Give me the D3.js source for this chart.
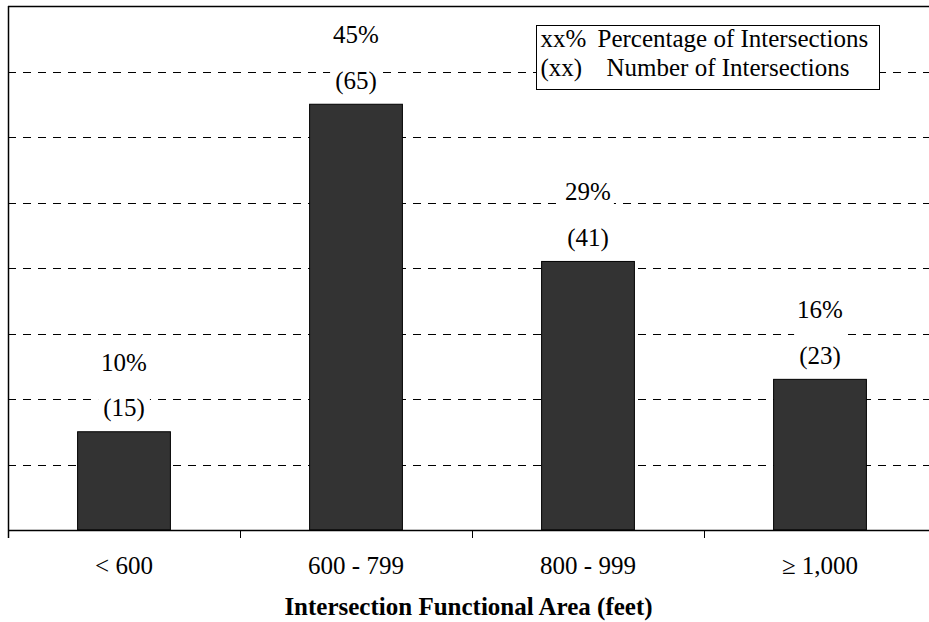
<!DOCTYPE html>
<html>
<head>
<meta charset="utf-8">
<script src="https://cdn.jsdelivr.net/npm/d3@7"></script>
<style>
  html, body { margin: 0; padding: 0; background: #fff; }
  svg { display: block; }
</style>
</head>
<body>
<svg id="chart" width="929" height="622"></svg>
<script>
// Intersection counts by functional area range
const categories = ["< 600", "600 - 799", "800 - 999", "\u2265 1,000"];
const counts = [15, 65, 41, 23];
const percents = [10, 45, 29, 16];
const gridValues = [10, 20, 30, 40, 50, 60, 70];
const legendKeys = ["xx%", "(xx)"];
const legendNames = ["Percentage of Intersections", "Number of Intersections"];
const axisTitle = "Intersection Functional Area (feet)";

const FONT = "'Liberation Serif', 'Times New Roman', Times, serif";
const svg = d3.select("#chart");
const plotLeft = 8, plotRight = 936, plotTop = 6, plotBottom = 530;

const y = d3.scaleLinear().domain([0, 80]).range([plotBottom, plotTop]);
const x = d3.scaleBand().domain(categories).range([plotLeft, plotRight])
  .paddingInner(0.6).paddingOuter(0.3);
const xCat = d3.scaleBand().domain(categories).range([plotLeft, plotRight]);

// dashed gridlines
svg.append("g").selectAll("line").data(gridValues).join("line")
  .attr("x1", plotLeft).attr("x2", plotRight)
  .attr("y1", d => Math.round(y(d)) + 0.5).attr("y2", d => Math.round(y(d)) + 0.5)
  .attr("stroke", "#000").attr("stroke-width", 1)
  .attr("stroke-dasharray", "8,7");

// top border
svg.append("line")
  .attr("x1", plotLeft).attr("x2", plotRight)
  .attr("y1", Math.round(y(80)) + 0.5).attr("y2", Math.round(y(80)) + 0.5)
  .attr("stroke", "#000").attr("stroke-width", 1.5);

// bars
svg.append("g").selectAll("rect").data(counts).join("rect")
  .attr("x", (d, i) => x(categories[i]))
  .attr("width", x.bandwidth())
  .attr("y", d => y(d))
  .attr("height", d => y(0) - y(d))
  .attr("fill", "#333333")
  .attr("stroke", "#000").attr("stroke-width", 1);

// x axis: baseline, category boundary ticks, labels
const xAxis = d3.axisBottom(xCat).tickSize(0).tickPadding(0);
const gx = svg.append("g").attr("transform", `translate(0,${plotBottom})`);
gx.append("line").attr("x1", plotLeft).attr("x2", plotRight).attr("y1", 0.5).attr("y2", 0.5)
  .attr("stroke", "#000").attr("stroke-width", 1.5);
gx.selectAll("line.tick").data(categories).join("line").attr("class", "tick")
  .attr("x1", d => Math.round(xCat(d)) + 0.5).attr("x2", d => Math.round(xCat(d)) + 0.5)
  .attr("y1", 0).attr("y2", 8).attr("stroke", "#000").attr("stroke-width", 1);
const axisG = gx.append("g").call(xAxis);
axisG.select(".domain").remove();
axisG.attr("font-family", FONT).attr("font-size", 25);
axisG.selectAll("text")
  .attr("y", 35).attr("dy", "0.35em")
  .attr("font-family", FONT).attr("font-size", 25).attr("fill", "#000");

// y axis line
svg.append("line")
  .attr("x1", plotLeft + 0.5).attr("x2", plotLeft + 0.5)
  .attr("y1", plotTop).attr("y2", plotBottom + 8)
  .attr("stroke", "#000").attr("stroke-width", 1.5);

// value labels: percentage over count, on a white backing
const labelG = svg.append("g");
counts.forEach((c, i) => {
  const cx = xCat(categories[i]) + xCat.bandwidth() / 2;
  const barTop = y(c);
  const g = labelG.append("g");
  const cy1 = barTop - 70, cy2 = barTop - 24.5;
  const t1 = g.append("text").attr("x", cx).attr("y", cy1)
    .attr("text-anchor", "middle").attr("dy", "0.35em")
    .attr("font-family", FONT).attr("font-size", 25).text(`${percents[i]}%`);
  const t2 = g.append("text").attr("x", cx).attr("y", cy2)
    .attr("text-anchor", "middle").attr("dy", "0.35em")
    .attr("font-family", FONT).attr("font-size", 25).text(`(${c})`);
  const w = Math.max(t1.node().getBBox().width, t2.node().getBBox().width) + 6;
  g.insert("rect", "text")
    .attr("x", cx - w / 2).attr("y", cy1 - 15)
    .attr("width", w).attr("height", cy2 - cy1 + 31)
    .attr("fill", "#fff");
});

// legend
const lg = svg.append("g").attr("transform", "translate(536.5,25.5)");
lg.append("rect").attr("width", 343).attr("height", 64)
  .attr("fill", "#fff").attr("stroke", "#000").attr("stroke-width", 1);
const nameX = [61, 70];
legendKeys.forEach((k, i) => {
  lg.append("text").attr("x", 4).attr("y", 13 + i * 29).attr("dy", "0.35em")
    .attr("font-family", FONT).attr("font-size", 25).text(k);
  lg.append("text").attr("x", nameX[i]).attr("y", 13 + i * 29).attr("dy", "0.35em")
    .attr("font-family", FONT).attr("font-size", 25).text(legendNames[i]);
});

// axis title
svg.append("text")
  .attr("x", (plotLeft + 929) / 2).attr("y", 606).attr("dy", "0.35em")
  .attr("text-anchor", "middle")
  .attr("font-family", FONT).attr("font-size", 25).attr("font-weight", "bold")
  .text(axisTitle);
</script>
</body>
</html>
